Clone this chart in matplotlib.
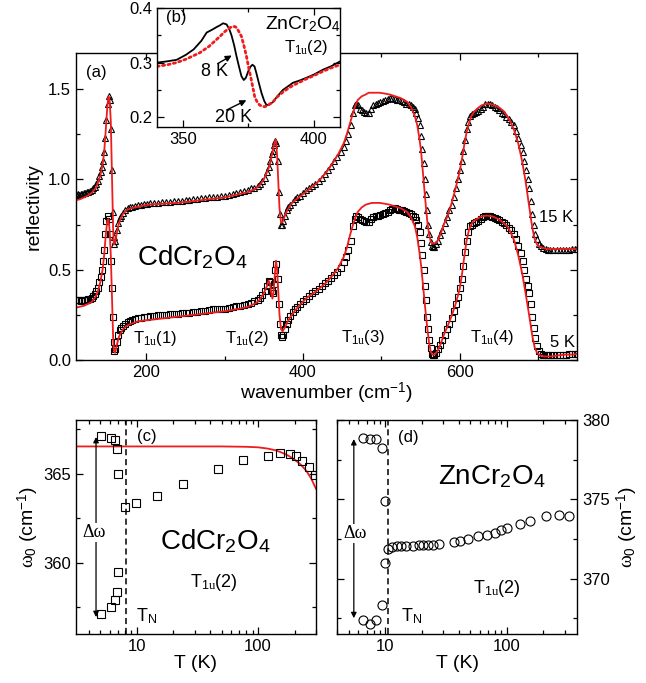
import matplotlib
matplotlib.use("Agg")
import matplotlib.pyplot as plt
from matplotlib.ticker import MultipleLocator, FixedLocator, NullFormatter, FuncFormatter, LogLocator

plt.rcParams['font.family'] = ['Liberation Sans', 'DejaVu Sans']
plt.rcParams['mathtext.fontset'] = 'custom'
plt.rcParams['mathtext.rm'] = 'Liberation Sans'
plt.rcParams['mathtext.it'] = 'Liberation Serif'
plt.rcParams['mathtext.bf'] = 'Liberation Sans:bold'

# ---------------- data: panel (a) CdCr2O4 reflectivity (measured) ----------------
wn_data = [110, 112, 114, 116, 118, 120, 122, 124, 126, 128,
           130, 132, 134, 136, 138, 140, 141.5, 143, 144.5, 146,
           147.5, 149, 150.5, 152, 153.5, 155, 156, 157, 158, 159,
           160.5, 162, 164, 166, 168, 170, 173, 176, 179, 182,
           185, 189, 193, 197, 201, 205, 210, 215, 220, 225,
           230, 235, 240, 245, 250, 255, 260, 265, 270, 275,
           280, 285, 290, 295, 300, 305, 310, 315, 320, 325,
           330, 334, 338, 342, 345, 348, 351, 353.5, 356, 358,
           360, 361.5, 363, 364.5, 366, 367.5, 369, 370.5, 372, 373.5,
           375, 377, 379, 381, 384, 387, 390, 393, 396, 400,
           404, 408, 412, 416, 420, 424, 428, 432, 436, 440,
           444, 448, 452, 455, 458, 461, 464, 466, 468, 470,
           472.5, 475, 478, 481, 484, 487, 490, 493, 496, 499,
           502, 505, 508, 511, 514, 517, 520, 523, 526, 529,
           532, 535, 538, 541, 543, 545, 547, 549, 551, 552.5,
           554, 555.5, 557, 558.5, 560, 561.5, 563, 564.5, 566, 568,
           570, 572.5, 575, 578, 581, 584, 587, 590, 593, 596,
           598.5, 601, 603, 605, 607, 609, 611, 613, 615.5, 618,
           621, 624, 627, 630, 633, 636, 639, 642, 645, 648,
           651, 654, 657, 660, 663, 666, 669, 672, 675, 678,
           680.5, 683, 685, 687, 689, 691, 693, 695, 697, 699,
           701.5, 704, 707, 710, 713, 716, 720, 724, 728, 732,
           736, 740, 744, 748, 750]

refl_15K = [0.92, 0.92, 0.915, 0.92, 0.92, 0.925, 0.925, 0.93, 0.93, 0.935,
            0.94, 0.95, 0.96, 0.975, 0.99, 1.02, 1.04, 1.07, 1.10, 1.15,
            1.23, 1.33, 1.42, 1.46, 1.44, 1.28, 1.05, 0.82, 0.68, 0.645,
            0.66, 0.72, 0.76, 0.785, 0.80, 0.815, 0.83, 0.84, 0.845, 0.85,
            0.855, 0.86, 0.86, 0.865, 0.865, 0.87, 0.87, 0.87, 0.875, 0.875,
            0.875, 0.88, 0.88, 0.88, 0.885, 0.885, 0.89, 0.89, 0.895, 0.895,
            0.90, 0.90, 0.905, 0.91, 0.91, 0.915, 0.92, 0.925, 0.93, 0.935,
            0.94, 0.95, 0.955, 0.965, 0.975, 0.99, 1.01, 1.04, 1.07, 1.10,
            1.14, 1.16, 1.19, 1.21, 1.20, 1.10, 0.93, 0.81, 0.75, 0.75,
            0.77, 0.80, 0.83, 0.845, 0.86, 0.875, 0.89, 0.90, 0.91, 0.925,
            0.94, 0.95, 0.965, 0.975, 0.99, 1.01, 1.03, 1.05, 1.075, 1.10,
            1.125, 1.15, 1.18, 1.21, 1.25, 1.30, 1.37, 1.41, 1.42, 1.41,
            1.39, 1.385, 1.375, 1.37, 1.37, 1.39, 1.41, 1.42, 1.425, 1.43,
            1.435, 1.44, 1.445, 1.45, 1.45, 1.445, 1.44, 1.44, 1.435, 1.43,
            1.42, 1.415, 1.41, 1.40, 1.39, 1.37, 1.34, 1.30, 1.24, 1.17,
            1.09, 1.00, 0.92, 0.83, 0.75, 0.70, 0.655, 0.63, 0.625, 0.625,
            0.64, 0.66, 0.69, 0.72, 0.76, 0.79, 0.83, 0.86, 0.90, 0.95,
            1.00, 1.05, 1.10, 1.16, 1.22, 1.28, 1.32, 1.35, 1.36, 1.37,
            1.375, 1.38, 1.39, 1.40, 1.415, 1.42, 1.415, 1.41, 1.40, 1.395,
            1.385, 1.37, 1.36, 1.345, 1.335, 1.32, 1.30, 1.27, 1.23, 1.19,
            1.15, 1.10, 1.05, 1.00, 0.95, 0.88, 0.81, 0.75, 0.70, 0.67,
            0.645, 0.63, 0.62, 0.615, 0.61, 0.61, 0.61, 0.61, 0.61, 0.61,
            0.61, 0.61, 0.612, 0.615, 0.615]

refl_5K = [0.33, 0.335, 0.33, 0.325, 0.33, 0.33, 0.335, 0.335, 0.34, 0.34,
           0.345, 0.355, 0.365, 0.38, 0.40, 0.43, 0.46, 0.50, 0.55, 0.61,
           0.70, 0.77, 0.80, 0.78, 0.70, 0.55, 0.40, 0.24, 0.10, 0.05,
           0.06, 0.10, 0.14, 0.165, 0.18, 0.19, 0.20, 0.21, 0.215, 0.22,
           0.225, 0.23, 0.235, 0.24, 0.24, 0.245, 0.245, 0.25, 0.25, 0.25,
           0.255, 0.255, 0.255, 0.26, 0.26, 0.26, 0.265, 0.265, 0.27, 0.27,
           0.275, 0.28, 0.28, 0.285, 0.285, 0.29, 0.295, 0.30, 0.30, 0.305,
           0.31, 0.315, 0.325, 0.335, 0.345, 0.36, 0.38, 0.41, 0.44, 0.43,
           0.38, 0.37, 0.42, 0.50, 0.53, 0.45, 0.31, 0.20, 0.14, 0.13,
           0.14, 0.17, 0.20, 0.22, 0.245, 0.265, 0.28, 0.295, 0.31, 0.325,
           0.34, 0.355, 0.37, 0.38, 0.395, 0.41, 0.425, 0.44, 0.455, 0.47,
           0.49, 0.51, 0.54, 0.57, 0.61, 0.66, 0.74, 0.78, 0.80, 0.79,
           0.78, 0.775, 0.77, 0.765, 0.765, 0.78, 0.79, 0.80, 0.80, 0.805,
           0.81, 0.815, 0.82, 0.83, 0.835, 0.84, 0.835, 0.83, 0.83, 0.825,
           0.82, 0.815, 0.81, 0.80, 0.79, 0.775, 0.75, 0.71, 0.65, 0.58,
           0.50, 0.41, 0.33, 0.24, 0.17, 0.11, 0.065, 0.035, 0.025, 0.03,
           0.04, 0.06, 0.085, 0.11, 0.14, 0.17, 0.20, 0.235, 0.27, 0.31,
           0.35, 0.40, 0.45, 0.52, 0.60, 0.66, 0.71, 0.74, 0.75, 0.76,
           0.765, 0.77, 0.78, 0.79, 0.80, 0.80, 0.795, 0.79, 0.785, 0.78,
           0.775, 0.765, 0.76, 0.745, 0.73, 0.72, 0.70, 0.67, 0.63, 0.59,
           0.55, 0.50, 0.45, 0.41, 0.37, 0.31, 0.24, 0.18, 0.12, 0.08,
           0.05, 0.035, 0.03, 0.025, 0.025, 0.025, 0.025, 0.025, 0.028, 0.03,
           0.03, 0.032, 0.033, 0.035, 0.035]

# ---------------- panel (a) model fits ----------------
wn_fit = [110, 115, 120, 125, 130, 135, 138, 141, 144, 146,
          148, 150, 151.5, 153, 154.5, 155.5, 156.5, 157.5, 158.5, 160,
          162, 165, 170, 175, 180, 190, 200, 220, 240, 260,
          280, 300, 320, 330, 340, 345, 350, 354, 356, 358,
          359.5, 361, 362.5, 364, 365.5, 367, 368.5, 370, 372, 374,
          377, 380, 385, 390, 396, 405, 415, 422, 430, 438,
          445, 452, 456, 460, 464, 467, 470, 475, 480, 484,
          488, 492, 498, 505, 511, 518, 525, 533, 538, 543,
          546, 549, 551, 553, 555, 557, 559, 561, 563, 565,
          568, 572, 576, 580, 585, 590, 595, 600, 603, 606,
          609, 612, 615, 618, 622, 628, 635, 642, 650, 656,
          661, 665, 670, 675, 680, 684, 687, 690, 692, 694,
          696, 699, 703, 708, 712, 718, 725, 735, 745, 750]

fit_15K = [0.885, 0.89, 0.90, 0.91, 0.925, 0.95, 0.98, 1.02, 1.08, 1.15,
           1.27, 1.40, 1.46, 1.44, 1.32, 1.12, 0.92, 0.72, 0.64, 0.65,
           0.70, 0.76, 0.81, 0.83, 0.84, 0.85, 0.86, 0.865, 0.87, 0.88,
           0.89, 0.90, 0.92, 0.93, 0.95, 0.97, 1.00, 1.04, 1.06, 1.09,
           1.12, 1.15, 1.18, 1.21, 1.22, 1.13, 0.98, 0.84, 0.76, 0.765,
           0.80, 0.83, 0.865, 0.885, 0.905, 0.935, 0.97, 1.00, 1.04, 1.09,
           1.14, 1.20, 1.25, 1.31, 1.37, 1.41, 1.44, 1.46, 1.47, 1.48,
           1.48, 1.48, 1.48, 1.475, 1.47, 1.46, 1.45, 1.43, 1.40, 1.35,
           1.30, 1.22, 1.15, 1.05, 0.95, 0.85, 0.76, 0.70, 0.66, 0.645,
           0.645, 0.66, 0.70, 0.75, 0.80, 0.87, 0.95, 1.04, 1.11, 1.19,
           1.26, 1.31, 1.35, 1.37, 1.39, 1.41, 1.42, 1.415, 1.40, 1.38,
           1.35, 1.32, 1.27, 1.20, 1.10, 1.00, 0.91, 0.82, 0.76, 0.71,
           0.67, 0.64, 0.625, 0.62, 0.615, 0.615, 0.615, 0.615, 0.615, 0.615]

fit_5K = [0.29, 0.295, 0.30, 0.31, 0.32, 0.35, 0.38, 0.43, 0.50, 0.58,
          0.69, 0.77, 0.78, 0.72, 0.58, 0.42, 0.26, 0.12, 0.05, 0.04,
          0.08, 0.13, 0.17, 0.19, 0.20, 0.215, 0.22, 0.23, 0.24, 0.25,
          0.26, 0.27, 0.285, 0.295, 0.315, 0.335, 0.37, 0.41, 0.44, 0.42,
          0.37, 0.34, 0.38, 0.47, 0.55, 0.50, 0.37, 0.25, 0.17, 0.16,
          0.18, 0.21, 0.245, 0.275, 0.305, 0.345, 0.375, 0.40, 0.43, 0.47,
          0.51, 0.57, 0.62, 0.69, 0.75, 0.79, 0.82, 0.845, 0.86, 0.865,
          0.87, 0.87, 0.87, 0.865, 0.86, 0.85, 0.84, 0.82, 0.79, 0.74,
          0.68, 0.59, 0.52, 0.43, 0.34, 0.25, 0.17, 0.10, 0.05, 0.03,
          0.03, 0.05, 0.09, 0.14, 0.19, 0.245, 0.31, 0.39, 0.47, 0.57,
          0.66, 0.72, 0.75, 0.77, 0.78, 0.795, 0.80, 0.795, 0.78, 0.76,
          0.74, 0.71, 0.66, 0.58, 0.48, 0.38, 0.30, 0.22, 0.16, 0.11,
          0.07, 0.04, 0.025, 0.02, 0.02, 0.02, 0.025, 0.03, 0.03, 0.035]

# ---------------- data: inset (b) ZnCr2O4 ----------------
wn_8K = [340, 343.5, 347.5, 351, 354, 357, 359, 361, 362.8, 364,
         365.3, 366.6, 367.6, 368.5, 369.5, 370.4, 371.4, 372.3, 373.2, 374,
         374.9, 375.7, 376.5, 377.3, 378, 379, 380, 381, 381.9, 383,
         384.4, 386, 388.2, 390, 392, 394.5, 397.1, 400, 403.5, 406.5, 410]
refl_8K = [0.300, 0.302, 0.305, 0.314, 0.324, 0.340, 0.355, 0.360, 0.365, 0.368,
           0.372, 0.370, 0.362, 0.350, 0.332, 0.312, 0.292, 0.275, 0.268, 0.272,
           0.284, 0.292, 0.296, 0.293, 0.281, 0.262, 0.244, 0.230, 0.222, 0.223,
           0.228, 0.238, 0.250, 0.256, 0.263, 0.267, 0.272, 0.278, 0.287, 0.293, 0.302]
wn_20K = [340, 344, 347.5, 351, 356.4, 360, 364.1, 366, 367.9, 369,
          369.8, 370.4, 371.3, 372.3, 373.2, 374.2, 375.1, 376.1, 377.4, 378.3,
          379.3, 380.3, 381.2, 382.5, 384.4, 386, 388.2, 390, 392, 395,
          397.1, 400, 403.5, 406.5, 410]
refl_20K = [0.293, 0.296, 0.300, 0.306, 0.318, 0.330, 0.348, 0.357, 0.364, 0.366,
            0.366, 0.364, 0.357, 0.348, 0.332, 0.312, 0.290, 0.268, 0.237, 0.228,
            0.222, 0.220, 0.219, 0.222, 0.228, 0.237, 0.246, 0.252, 0.258, 0.265,
            0.270, 0.276, 0.284, 0.290, 0.296]

# ---------------- data: panel (c) CdCr2O4 T1u(2) ----------------
T_cd = [5.07, 6.1, 6.63, 6.84, 7.05, 8.0, 9.9, 14.8, 24, 47,
        74.7, 120, 153, 183, 204, 231, 262, 294,
        7.05, 6.9, 6.63, 6.1, 5.07]
w0_cd = [367.08, 366.97, 366.87, 366.37, 365.0, 363.15, 363.33, 363.75, 364.4, 365.28,
         365.75, 365.99, 366.16, 366.12, 365.97, 365.71, 365.34, 364.9,
         359.48, 358.35, 357.9, 357.53, 357.1]
T_cd_fit = [3, 50, 80, 100, 120, 140, 160, 180, 200, 225, 250, 275, 300]
w0_cd_fit = [366.52, 366.52, 366.5, 366.47, 366.4, 366.3, 366.15, 365.98, 365.78, 365.5, 365.15, 364.7, 364.15]
TN_cd = 8.2

# ---------------- data: panel (d) ZnCr2O4 T1u(2) ----------------
T_zn = [6.56, 7.44, 8.4, 9.39, 9.88, 6.56, 7.44, 8.4, 9.39, 9.88,
        10.45, 11.34, 12.46, 13.5, 14.9, 16.75, 18.74, 20.6, 22.6, 24.9,
        27.4, 37, 41.2, 47.6, 57.4, 68.9, 79.8, 88.7, 100.7, 129,
        155.6, 210, 268, 324]
w0_zn = [378.87, 378.82, 378.82, 378.26, 374.87, 367.37, 367.16, 367.37, 368.32, 370.95,
         371.85, 372.0, 372.06, 372.06, 372.08, 372.08, 372.1, 372.1, 372.12, 372.14,
         372.16, 372.31, 372.35, 372.52, 372.69, 372.73, 372.9, 373.05, 373.19, 373.42,
         373.61, 373.95, 373.99, 373.95]
TN_zn = 10.6

RED = '#ee1c1c'

fig = plt.figure(figsize=(6.46, 6.83), dpi=100)

def style_ticks(ax):
    ax.tick_params(which='both', direction='in', top=True, right=True, labelsize=12)
    ax.tick_params(which='major', length=5, width=0.9)
    ax.tick_params(which='minor', length=3, width=0.9)
    for s in ax.spines.values():
        s.set_linewidth(1.0)

# ---- panel (a)
axa = fig.add_axes([0.1176, 0.4729, 0.7755, 0.4495])
axa.plot(wn_data, refl_15K, ls='none', marker='^', ms=4.2, mfc='none', mec='black', mew=0.8)
axa.plot(wn_data, refl_5K, ls='none', marker='s', ms=3.8, mfc='none', mec='black', mew=0.8)
axa.plot(wn_fit, fit_15K, color=RED, lw=1.3)
axa.plot(wn_fit, fit_5K, color=RED, lw=1.3)
axa.set_xlim(110, 750)
axa.set_ylim(0, 1.70)
axa.xaxis.set_major_locator(FixedLocator([200, 400, 600]))
axa.xaxis.set_minor_locator(FixedLocator([300, 500, 700]))
axa.yaxis.set_major_locator(MultipleLocator(0.5))
axa.yaxis.set_minor_locator(MultipleLocator(0.25))
axa.yaxis.set_major_formatter(FuncFormatter(lambda v, p: f'{v:.1f}'))
style_ticks(axa)
axa.set_xlabel('wavenumber (cm$^{-1}$)', fontsize=14, labelpad=1)
axa.set_ylabel('reflectivity', fontsize=14, labelpad=4)
axa.text(135.5, 1.59, '(a)', fontsize=12, ha='center', va='center')
axa.text(258, 0.57, 'CdCr$_2$O$_4$', fontsize=20, ha='center', va='center')
axa.text(211, 0.12, 'T$_{1u}$(1)', fontsize=12, ha='center', va='center')
axa.text(329, 0.12, 'T$_{1u}$(2)', fontsize=12, ha='center', va='center')
axa.text(477, 0.125, 'T$_{1u}$(3)', fontsize=12, ha='center', va='center')
axa.text(642, 0.125, 'T$_{1u}$(4)', fontsize=12, ha='center', va='center')
axa.text(723, 0.79, '15 K', fontsize=12, ha='center', va='center')
axa.text(731, 0.096, '5 K', fontsize=12, ha='center', va='center')

# ---- inset (b)
axb = fig.add_axes([0.2430, 0.8141, 0.2833, 0.1742])
axb.set_facecolor('white')
axb.plot(wn_8K, refl_8K, color='black', lw=1.3)
axb.plot(wn_20K, refl_20K, color=RED, lw=2.0, ls=(0, (0.8, 1.2)), dash_capstyle='round')
axb.set_xlim(340, 410)
axb.set_ylim(0.182, 0.40)
axb.xaxis.set_major_locator(MultipleLocator(50))
axb.xaxis.set_minor_locator(MultipleLocator(25))
axb.yaxis.set_major_locator(MultipleLocator(0.1))
axb.yaxis.set_minor_locator(MultipleLocator(0.05))
axb.yaxis.set_major_formatter(FuncFormatter(lambda v, p: f'{v:.1f}'))
style_ticks(axb)
axb.text(343.5, 0.383, '(b)', fontsize=12, ha='left', va='center')
axb.text(396, 0.370, 'ZnCr$_2$O$_4$', fontsize=14, ha='center', va='center')
axb.text(397, 0.327, 'T$_{1u}$(2)', fontsize=12, ha='center', va='center')
axb.text(362, 0.283, '8 K', fontsize=13, ha='center', va='center')
axb.text(369.4, 0.200, '20 K', fontsize=13, ha='center', va='center')
axb.annotate('', xy=(368.6, 0.313), xytext=(363.2, 0.298),
             arrowprops=dict(arrowstyle='-|>', color='black', lw=1.0, mutation_scale=9, shrinkA=0, shrinkB=0))
axb.annotate('', xy=(374.2, 0.231), xytext=(366.6, 0.213),
             arrowprops=dict(arrowstyle='-|>', color='black', lw=1.0, mutation_scale=9, shrinkA=0, shrinkB=0))

def log_axis(ax):
    ax.set_xscale('log')
    ax.xaxis.set_major_locator(FixedLocator([10, 100]))
    ax.xaxis.set_major_formatter(FuncFormatter(lambda v, p: f'{v:g}'))
    ax.xaxis.set_minor_locator(LogLocator(base=10, subs=range(2, 10)))
    ax.xaxis.set_minor_formatter(NullFormatter())

# ---- panel (c)
axc = fig.add_axes([0.1176, 0.0717, 0.3715, 0.3133])
axc.plot(T_cd_fit, w0_cd_fit, color=RED, lw=1.3)
axc.plot(T_cd, w0_cd, ls='none', marker='s', ms=6, mfc='none', mec='black', mew=0.8)
log_axis(axc)
axc.set_xlim(3.15, 300)
axc.set_ylim(356, 368)
axc.yaxis.set_major_locator(MultipleLocator(5))
axc.yaxis.set_minor_locator(MultipleLocator(2.5))
style_ticks(axc)
axc.axvline(TN_cd, color='black', ls=(0, (4, 2.5)), lw=1.1)
axc.annotate('', xy=(4.61, 367.05), xytext=(4.61, 356.95),
             arrowprops=dict(arrowstyle='<|-|>', color='black', lw=0.9, mutation_scale=8, shrinkA=0, shrinkB=0))
axc.text(4.45, 361.7, 'Δω', fontsize=13, family='Liberation Serif', ha='center', va='center',
         bbox=dict(facecolor='white', edgecolor='none', pad=0.5))
axc.text(12.2, 367.06, '(c)', fontsize=12, ha='center', va='center')
axc.text(44, 361.2, 'CdCr$_2$O$_4$', fontsize=20, ha='center', va='center')
axc.text(43, 358.9, 'T$_{1u}$(2)', fontsize=13, ha='center', va='center')
axc.text(12.1, 357.0, 'T$_\\mathregular{N}$', fontsize=13, ha='center', va='center')
axc.set_xlabel('T (K)', fontsize=14, labelpad=1)
axc.set_ylabel('$\\omega_0$ (cm$^{-1}$)', fontsize=14, labelpad=2)

# ---- panel (d)
axd = fig.add_axes([0.5217, 0.0717, 0.3715, 0.3133])
axd.plot(T_zn, w0_zn, ls='none', marker='o', ms=6.5, mfc='none', mec='black', mew=0.8)
log_axis(axd)
axd.set_xlim(4.0, 378)
axd.set_ylim(366.5, 380)
axd.yaxis.set_major_locator(MultipleLocator(5))
axd.yaxis.set_minor_locator(MultipleLocator(2.5))
style_ticks(axd)
axd.tick_params(which='both', labelleft=False, labelright=True)
axd.yaxis.set_label_position('right')
axd.axvline(TN_zn, color='black', ls=(0, (4, 2.5)), lw=1.1)
axd.annotate('', xy=(5.5, 378.8), xytext=(5.5, 367.5),
             arrowprops=dict(arrowstyle='<|-|>', color='black', lw=0.9, mutation_scale=8, shrinkA=0, shrinkB=0))
axd.text(5.67, 372.84, 'Δω', fontsize=13, family='Liberation Serif', ha='center', va='center',
         bbox=dict(facecolor='white', edgecolor='none', pad=0.5))
axd.text(15.5, 378.87, '(d)', fontsize=12, ha='center', va='center')
axd.text(75, 376.4, 'ZnCr$_2$O$_4$', fontsize=20, ha='center', va='center')
axd.text(83, 369.4, 'T$_{1u}$(2)', fontsize=13, ha='center', va='center')
axd.text(16.3, 367.6, 'T$_\\mathregular{N}$', fontsize=13, ha='center', va='center')
axd.set_xlabel('T (K)', fontsize=14, labelpad=1)
axd.set_ylabel('$\\omega_0$ (cm$^{-1}$)', fontsize=14, labelpad=4)

fig.savefig('out.png', dpi=100)
